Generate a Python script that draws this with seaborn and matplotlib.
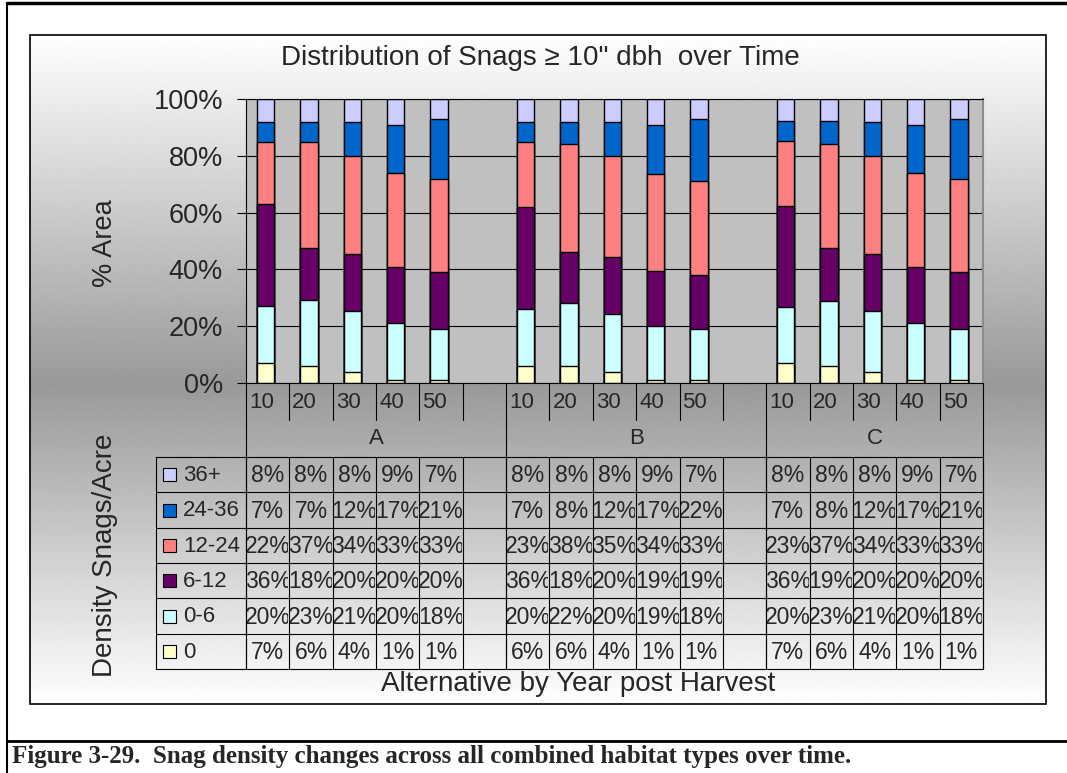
import numpy as np
import pandas as pd
import seaborn as sns
import matplotlib.pyplot as plt
from matplotlib.patches import Rectangle
from matplotlib.transforms import Bbox
from matplotlib.ticker import PercentFormatter

years = ['10', '20', '30', '40', '50']
alternatives = ['A', 'B', 'C']
density_classes = ['0', '0-6', '6-12', '12-24', '24-36', '36+']
class_colors = ['#FFFFCC', '#CCFFFF', '#660066', '#FF8080', '#0066CC', '#CCCCFF']

# % area per density class, order A10..A50, B10..B50, C10..C50
pct_0 = [7, 6, 4, 1, 1, 6, 6, 4, 1, 1, 7, 6, 4, 1, 1]
pct_0_6 = [20, 23, 21, 20, 18, 20, 22, 20, 19, 18, 20, 23, 21, 20, 18]
pct_6_12 = [36, 18, 20, 20, 20, 36, 18, 20, 19, 19, 36, 19, 20, 20, 20]
pct_12_24 = [22, 37, 34, 33, 33, 23, 38, 35, 34, 33, 23, 37, 34, 33, 33]
pct_24_36 = [7, 7, 12, 17, 21, 7, 8, 12, 17, 22, 7, 8, 12, 17, 21]
pct_36_plus = [8, 8, 8, 9, 7, 8, 8, 8, 9, 7, 8, 8, 8, 9, 7]
class_values = [pct_0, pct_0_6, pct_6_12, pct_12_24, pct_24_36, pct_36_plus]

title = 'Distribution of Snags \u2265 10" dbh  over Time'
caption = 'Figure 3-29.  Snag density changes across all combined habitat types over time.'

# category slots: 5 years per alternative, empty slot between alternatives
order = []
for k, alt in enumerate(alternatives):
    order += [alt + y for y in years]
    if k < len(alternatives) - 1:
        order.append('gap' + alt)
bar_slots = [alt + y for alt in alternatives for y in years]

# 100% stacked -> cumulative tops
vals = np.array(class_values, dtype=float)
cum = vals.cumsum(axis=0) / vals.sum(axis=0) * 100

sns.set_style('white')
plt.rcParams['font.family'] = ['Liberation Sans', 'DejaVu Sans']

W, H = 1067, 773
fig = plt.figure(figsize=(W / 100, H / 100), dpi=100)

# background layer in pixel coordinates
bg = fig.add_axes([0, 0, 1, 1], zorder=0)
bg.set_xlim(0, W)
bg.set_ylim(H, 0)
bg.axis('off')
rows = np.arange(35, 705)
shade = np.interp(rows, [35, 385, 704], [1.0, 0.6, 1.0])
bg.imshow(shade[:, None], cmap='gray', vmin=0, vmax=1, aspect='auto',
          extent=(30, 1046, 704, 35), interpolation='bilinear')
bg.add_patch(Rectangle((30, 35), 1016, 669, fill=False, ec='black', lw=1.2))

# plot area
px_left, px_right, px_top, px_bottom = 246, 983, 99, 383
ax = fig.add_axes([px_left / W, 1 - px_bottom / H,
                   (px_right - px_left) / W, (px_bottom - px_top) / H], zorder=1)
ax.set_facecolor('#C0C0C0')

for i in reversed(range(len(density_classes))):
    df = pd.DataFrame({'slot': bar_slots, 'top': cum[i]})
    sns.barplot(data=df, x='slot', y='top', order=order, color=class_colors[i],
                saturation=1, width=0.4, edgecolor='black', linewidth=1,
                errorbar=None, ax=ax)

ax.set_xlim(-0.45, len(order) - 0.45)
ax.set_ylim(0, 100)
ax.set_xticks([])
ax.set_xlabel('')
ax.set_ylabel('')
ax.set_yticks(range(0, 101, 20))
ax.yaxis.set_major_formatter(PercentFormatter(decimals=0))
ax.tick_params(axis='y', left=True, length=6.5, width=0.8, color='black',
               pad=10, labelsize=19.5)
ax.yaxis.grid(True, color='black', lw=0.8)
ax.set_axisbelow(True)
for side in ['left', 'bottom', 'top']:
    ax.spines[side].set_color('black')
    ax.spines[side].set_linewidth(0.8)
ax.spines['right'].set_color('#8c8c8c')
ax.spines['right'].set_linewidth(1.5)

# data table layer in pixel coordinates
tab = fig.add_axes([0, 0, 1, 1], zorder=2)
tab.set_xlim(0, W)
tab.set_ylim(H, 0)
tab.axis('off')
tab.patch.set_visible(False)

edges = np.linspace(px_left, px_right, len(order) + 1)
group_edges = [edges[0], edges[6], edges[12], edges[-1]]
tbl_top, tbl_bottom, tbl_left = 457, 669, 156
row_edges = np.linspace(tbl_top, tbl_bottom, len(density_classes) + 1)
lc = dict(color='black', lw=0.8)


def clip_text(t, x0, x1, y0, y1):
    t.set_clip_box(Bbox([[x0, H - y1], [x1, H - y0]]))
    t.set_clip_on(True)


# year row
for j in range(1, len(edges) - 1):
    if edges[j] not in group_edges:
        tab.plot([edges[j], edges[j]], [px_bottom, 420], **lc)
for j, slot in enumerate(order):
    if not slot.startswith('gap'):
        tab.text(edges[j] + 3, 402, slot[1:], fontsize=16, ha='left', va='center')
# alternative row
for g in group_edges:
    tab.plot([g, g], [px_bottom, tbl_bottom], **lc)
for k, alt in enumerate(alternatives):
    tab.text((group_edges[k] + group_edges[k + 1]) / 2, 439, alt,
             fontsize=16, ha='center', va='center')
# table grid
for r in row_edges:
    tab.plot([tbl_left, px_right], [r, r], **lc)
tab.plot([tbl_left, tbl_left], [tbl_top, tbl_bottom], **lc)
for e in edges:
    tab.plot([e, e], [tbl_top, tbl_bottom], **lc)

for r in range(len(density_classes)):
    ci = len(density_classes) - 1 - r
    yc = (row_edges[r] + row_edges[r + 1]) / 2
    tab.add_patch(Rectangle((163, yc - 6.5), 13, 13, fc=class_colors[ci], ec='black', lw=0.8))
    tab.text(183, yc + 1, density_classes[ci], fontsize=16, ha='left', va='center')
    for b, slot in enumerate(bar_slots):
        j = order.index(slot)
        t = tab.text((edges[j] + edges[j + 1]) / 2, yc + 1, f'{class_values[ci][b]}%',
                     fontsize=16.5, ha='center', va='center')
        clip_text(t, edges[j] + 1, edges[j + 1] - 1, row_edges[r], row_edges[r + 1])

# titles and axis labels
tab.text(540, 58, title, fontsize=20, ha='center', va='center')
tab.text(105, 243, '% Area', fontsize=19.5, rotation=90, ha='center', va='center')
tab.text(105, 555, 'Density Snags/Acre', fontsize=20, rotation=90, ha='center', va='center')
tab.text(578, 684, 'Alternative by Year post Harvest', fontsize=20, ha='center', va='center')

# page frame and caption
tab.plot([7, W], [3, 3], color='black', lw=2.5)
tab.plot([7, 7], [3, H], color='black', lw=1.5)
tab.plot([7, W], [741, 741], color='black', lw=2)
tab.text(12, 757, caption, fontsize=18, fontfamily='Liberation Serif',
         fontweight='bold', ha='left', va='center')

fig.savefig('out.png', dpi=100)
